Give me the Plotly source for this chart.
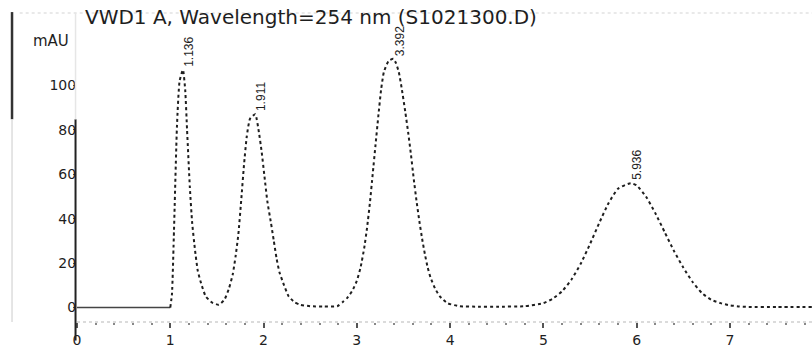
import plotly.graph_objects as go

# Detector trace (time in min, signal in mAU)
time_min = [0.0, 0.5, 0.99, 1.0, 1.018, 1.04, 1.072, 1.10, 1.136, 1.16, 1.18, 1.21,
            1.235, 1.265, 1.295, 1.33, 1.38, 1.45, 1.52, 1.58, 1.63, 1.67, 1.70,
            1.73, 1.76, 1.79, 1.82, 1.855, 1.911, 1.95, 1.98, 2.01, 2.04, 2.08,
            2.11, 2.14, 2.17, 2.22, 2.27, 2.33, 2.39, 2.5, 2.65, 2.79, 2.85, 2.9,
            2.95, 3.0, 3.04, 3.08, 3.11, 3.14, 3.17, 3.2, 3.23, 3.26, 3.29, 3.34,
            3.392, 3.42, 3.45, 3.48, 3.52, 3.55, 3.58, 3.61, 3.64, 3.67, 3.7, 3.73,
            3.76, 3.79, 3.84, 3.89, 3.97, 4.1, 4.3, 4.5, 4.8, 5.0, 5.1, 5.2, 5.3,
            5.4, 5.5, 5.6, 5.7, 5.8, 5.936, 6.0, 6.1, 6.2, 6.3, 6.4, 6.5, 6.6, 6.7,
            6.8, 6.9, 7.0, 7.1, 7.2, 7.5, 7.88]
signal_mau = [0.0, 0.0, 0.0, 0.0, 6, 35, 82, 102, 107, 98, 80, 54,
              38, 26, 16.5, 11, 5, 2.2, 1.3, 3.5, 8.7, 15, 23,
              33, 48, 64, 77, 85, 87, 79, 70, 59, 48, 38,
              30, 22, 16, 10, 5, 2.5, 1.3, 0.6, 0.5, 0.6, 2.5, 4.5,
              7.5, 12, 18, 27, 36, 47, 60, 73, 86, 98, 106, 111,
              112, 110, 106, 99, 88, 79, 69, 58, 48, 39, 31, 24,
              18, 13.5, 8.5, 5, 2, 0.6, 0.4, 0.4, 0.6, 2.0, 4.0, 7.3, 12.5,
              19.7, 28.6, 38.2, 47.1, 53.5, 56, 55, 50, 42.5, 34, 25.5, 18, 11.5, 6.5,
              3.5, 2.0, 1.0, 0.5, 0.3, 0.3, 0.3]

# Integrated peaks (retention times)
peak_rt = [1.136, 1.911, 3.392, 5.936]
peak_labels = ["1.136", "1.911", "3.392", "5.936"]

x_ticks = [0, 1, 2, 3, 4, 5, 6, 7, 8]
y_ticks = [0, 20, 40, 60, 80, 100]

title_text = "VWD1 A, Wavelength=254 nm (S1021300.D)"
unit_text = "mAU"

ink = "#1e1e1e"
font_family = "DejaVu Sans, Arial, sans-serif"

# split: flat lead-in is drawn solid, the chromatogram itself dotted
split = time_min.index(1.0) + 1

fig = go.Figure()
fig.add_trace(go.Scatter(
    x=time_min[:split], y=signal_mau[:split], mode="lines",
    line=dict(color="#444444", width=1.5), hoverinfo="skip", showlegend=False))
fig.add_trace(go.Scatter(
    x=time_min[split - 1:], y=signal_mau[split - 1:], mode="lines",
    line=dict(color=ink, width=2, dash="dot", shape="spline", smoothing=0.5),
    hoverinfo="skip", showlegend=False))

# retention-time labels above each apex
for rt, lab in zip(peak_rt, peak_labels):
    h = signal_mau[time_min.index(rt)]
    fig.add_annotation(x=rt, y=h, text=lab, textangle=-90, showarrow=False,
                       xanchor="center", yanchor="bottom", xshift=6, yshift=1,
                       font=dict(family="Liberation Sans, Arial, sans-serif",
                                 size=12, color=ink))

fig.add_annotation(xref="paper", yref="paper", x=0.008, y=0.986, yanchor="middle",
                   xanchor="left", text=title_text, showarrow=False,
                   font=dict(family=font_family, size=20, color=ink))
fig.add_annotation(xref="paper", yref="paper", x=-0.063, y=0.909, xanchor="left",
                   yanchor="middle", text=unit_text, showarrow=False,
                   font=dict(family=font_family, size=15, color=ink))

shapes = [
    # frame remnants
    dict(type="line", xref="paper", yref="paper", x0=-0.0884, x1=-0.0884,
         y0=1.003, y1=0.656, line=dict(color="#333333", width=2.5)),
    dict(type="line", xref="paper", yref="paper", x0=-0.0884, x1=-0.0884,
         y0=0.656, y1=0.0, line=dict(color="#dddddd", width=1.5)),
    dict(type="line", xref="paper", yref="paper", x0=-0.078, x1=1.0,
         y0=1.0, y1=1.0, line=dict(color="#e2e2e2", width=1.5, dash="dot")),
    # y axis line
    dict(type="line", xref="paper", yref="paper", x0=-0.002, x1=-0.002,
         y0=0.656, y1=-0.06, line=dict(color="#222222", width=2)),
    dict(type="line", xref="paper", yref="paper", x0=-0.002, x1=-0.002,
         y0=1.0, y1=0.656, line=dict(color="#e6e6e6", width=1.5)),
    # x axis line
    dict(type="line", xref="paper", yref="paper", x0=0.0, x1=1.0,
         y0=0.0, y1=0.0, line=dict(color="#cfcfcf", width=1.5, dash="dot")),
]

fig.update_layout(
    width=812, height=348,
    margin=dict(l=77, r=0, t=13, b=15),
    paper_bgcolor="white", plot_bgcolor="white",
    shapes=shapes,
    xaxis=dict(range=[0, 7.88], tickvals=x_ticks, ticks="outside", ticklen=5,
               tickwidth=1.5, tickcolor="#555555", showline=False, showgrid=False,
               zeroline=False, tickfont=dict(family=font_family, size=14, color=ink),
               minor=dict(dtick=0.2, ticks="outside", ticklen=2, tickcolor="#888888")),
    yaxis=dict(range=[-6.5, 132.6], tickvals=y_ticks, ticks="outside", ticklen=3,
               tickcolor="#555555", showline=False, showgrid=False, zeroline=False,
               ticklabelstandoff=-6,
               tickfont=dict(family=font_family, size=14, color=ink)),
)

fig.write_html("out.html")
